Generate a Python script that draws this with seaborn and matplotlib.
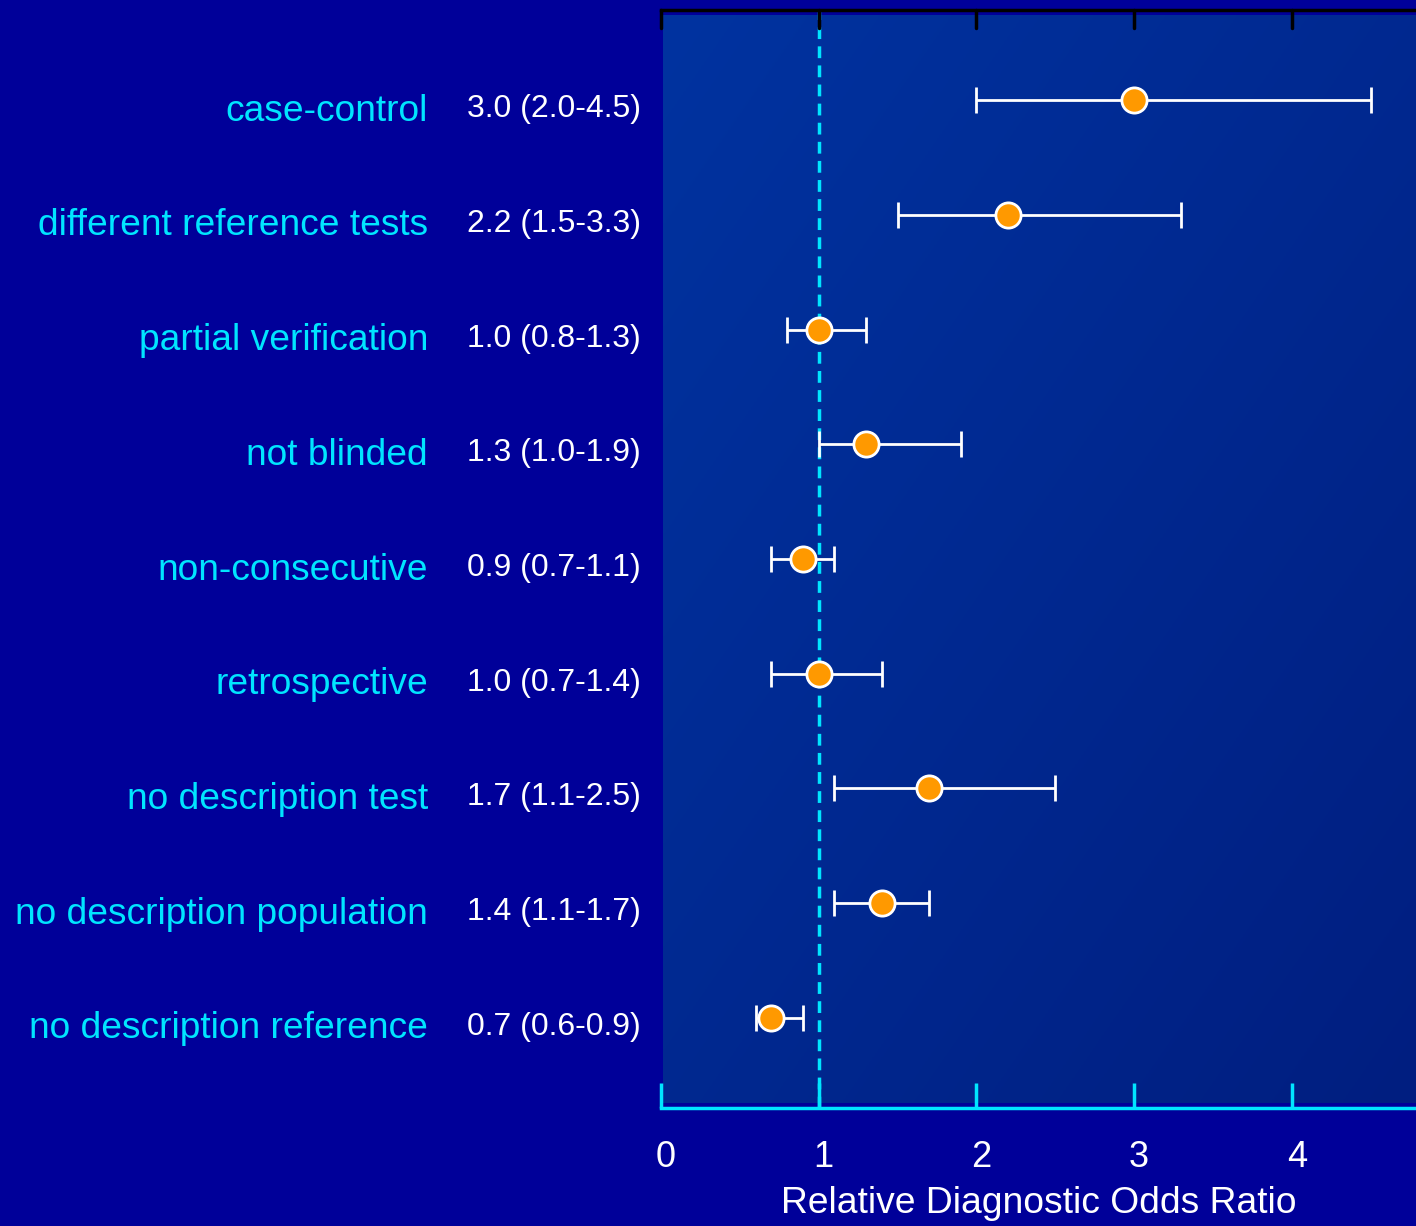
import numpy as np
import pandas as pd
import matplotlib
matplotlib.use("Agg")
import matplotlib.pyplot as plt
import matplotlib.transforms as mtransforms
import seaborn as sns

categories = [
    "case-control",
    "different reference tests",
    "partial verification",
    "not blinded",
    "non-consecutive",
    "retrospective",
    "no description test",
    "no description population",
    "no description reference",
]
rdor = [3.0, 2.2, 1.0, 1.3, 0.9, 1.0, 1.7, 1.4, 0.7]
ci_low = [2.0, 1.5, 0.8, 1.0, 0.7, 0.7, 1.1, 1.1, 0.6]
ci_high = [4.5, 3.3, 1.3, 1.9, 1.1, 1.4, 2.5, 1.7, 0.9]
x_ticks = [0, 1, 2, 3, 4]

df = pd.DataFrame({"factor": categories, "rdor": rdor,
                   "lo": ci_low, "hi": ci_high})
df["row"] = np.arange(len(df))

sns.set_theme(style="white")
plt.rcParams["font.family"] = ["Liberation Sans", "DejaVu Sans"]

BG = "#000099"
CYAN = "#00e5ff"

fig = plt.figure(figsize=(14.16, 12.26), dpi=100, facecolor=BG)
ax = fig.add_axes([661 / 1416, 118 / 1226, 1 - 661 / 1416, (1108 - 10) / 1226])
ax.set_facecolor(BG)

# diagonal gradient panel
n = 256
gx, gy = np.meshgrid(np.linspace(0, 1, n), np.linspace(0, 1, n))
t = (gx + gy) / 2
c0 = np.array([0x00, 0x33, 0xa0]) / 255
c1 = np.array([0x00, 0x1e, 0x80]) / 255
grad = c0[None, None, :] * (1 - t[..., None]) + c1[None, None, :] * t[..., None]
ax.imshow(grad, extent=[0.003, 1, 0.005, 0.995], transform=ax.transAxes,
          aspect="auto", zorder=0, origin="upper")

xmax = (1416 - 661) / 157.7
ax.set_xlim(0, xmax)
ax.set_ylim(len(df) - 1 + 0.785, -0.785)

ax.axvline(1, color=CYAN, lw=2.5, ls=(0, (3.4, 2.1)), zorder=1)

ax.errorbar(df["rdor"], df["row"],
            xerr=[df["rdor"] - df["lo"], df["hi"] - df["rdor"]],
            fmt="none", ecolor="white", elinewidth=2, capsize=9.5,
            capthick=2, zorder=2)
sns.scatterplot(data=df, x="rdor", y="row", ax=ax, s=330,
                color="#ff9900", edgecolor="white", linewidth=2,
                zorder=3, legend=False)

ax.set_yticks([])
ax.set_ylabel("")
ax.set_xticks(x_ticks)
ax.set_xticklabels([str(v) for v in x_ticks])
ax.tick_params(axis="x", which="both", direction="in", length=18, width=2.5,
               color=CYAN, labelcolor="white", labelsize=26, pad=23,
               bottom=True, top=False)
shift = mtransforms.ScaledTranslation(5 / 100, 0, fig.dpi_scale_trans)
for lbl in ax.get_xticklabels():
    lbl.set_transform(lbl.get_transform() + shift)
ax.set_xlabel("Relative Diagnostic Odds Ratio", color="white", fontsize=26.8,
              labelpad=8)

for side in ["left", "right"]:
    ax.spines[side].set_visible(False)
ax.spines["bottom"].set_color(CYAN)
ax.spines["bottom"].set_linewidth(2.5)
ax.spines["top"].set_color("black")
ax.spines["top"].set_linewidth(2.5)

# black ticks hanging from the top spine
for v in x_ticks:
    ax.plot([v, v], [1, 1 - 18 / 1098], color="black", lw=2.5,
            transform=ax.get_xaxis_transform(), clip_on=False, zorder=4)

# row labels
for _, r in df.iterrows():
    ax.annotate(r["factor"], xy=(0, r["row"]), xycoords=("axes fraction", "data"),
                xytext=(428 - 661, -11), textcoords="offset pixels",
                ha="right", va="center", color=CYAN, fontsize=26.7)
    ax.annotate(f"{r['rdor']:.1f} ({r['lo']:.1f}-{r['hi']:.1f})",
                xy=(0, r["row"]), xycoords=("axes fraction", "data"),
                xytext=(467 - 661, -9), textcoords="offset pixels",
                ha="left", va="center", color="white", fontsize=23)

fig.savefig("out.png", dpi=100, facecolor=BG)
